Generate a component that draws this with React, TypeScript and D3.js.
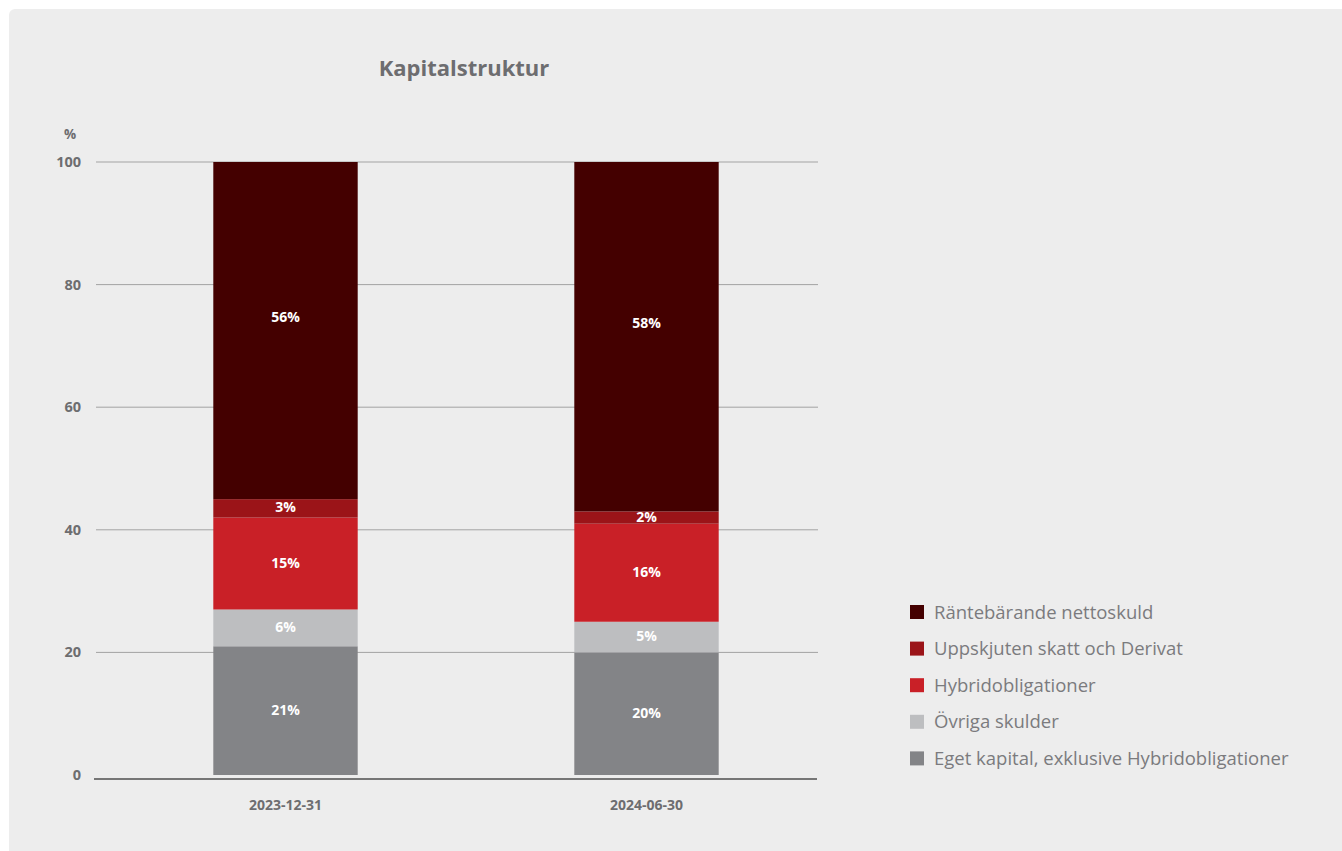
// @ts-nocheck
import React from 'react';
import * as d3 from 'd3';

// data
const periods = ['2023-12-31', '2024-06-30'];
const seriesNames = [
  'Eget kapital, exklusive Hybridobligationer',
  'Övriga skulder',
  'Hybridobligationer',
  'Uppskjuten skatt och Derivat',
  'Räntebärande nettoskuld',
];
const egetKapital = [21, 20];
const ovrigaSkulder = [6, 5];
const hybrid = [15, 16];
const uppskjuten = [3, 2];
const rantebarande = [56, 58];
const seriesColors = ['#838487', '#bdbec0', '#c92027', '#9b1418', '#440000'];
const yTicks = [0, 20, 40, 60, 80, 100];

const W = 1342, H = 851;
const font = '"Open Sans", "DejaVu Sans", sans-serif';

export default function App() {
  const rows = periods.map((p, i) => ({
    period: p,
    [seriesNames[0]]: egetKapital[i],
    [seriesNames[1]]: ovrigaSkulder[i],
    [seriesNames[2]]: hybrid[i],
    [seriesNames[3]]: uppskjuten[i],
    [seriesNames[4]]: rantebarande[i],
  }));
  const stacked = d3.stack().keys(seriesNames)(rows);

  const x = d3.scaleBand().domain(periods).range([105, 827]).paddingInner(0.6).paddingOuter(0.3);
  const y = d3.scaleLinear().domain([0, 100]).range([775, 162]);
  const gridX0 = 96, gridX1 = 818;

  const legendOrder = [...seriesNames].reverse();

  return (
    <svg width={W} height={H} style={{ position: 'absolute', left: 0, top: 0, display: 'block' }}>
      <defs>
        <clipPath id="plotClip">
          <rect x={0} y={y(100)} width={W} height={y(0) - y(100) + 1} />
        </clipPath>
      </defs>
      <rect x={0} y={0} width={W} height={H} fill="#ffffff" />
      <rect x={9} y={9} width={W} height={H} rx={6} fill="#ededed" />

      <text x={464} y={76} textAnchor="middle" fontFamily={font} fontWeight="bold" fontSize={22} fill="#6d6d70">
        Kapitalstruktur
      </text>

      <text x={70} y={139} textAnchor="middle" fontFamily={font} fontWeight="bold" fontSize={13.5} fill="#6d6d70">%</text>

      {yTicks.map(t => (
        <g key={t}>
          {t > 0 && (
            <line x1={gridX0} x2={gridX1} y1={y(t)} y2={y(t)} stroke="#a3a3a3" strokeWidth={1} />
          )}
          <text x={81} y={y(t) + 5} textAnchor="end" fontFamily={font} fontWeight="bold" fontSize={14.5} fill="#6d6d70">
            {t}
          </text>
        </g>
      ))}

      <g clipPath="url(#plotClip)">
        {stacked.map((s, si) => (
          <g key={s.key} fill={seriesColors[si]}>
            {s.map((d, i) => (
              <rect
                key={i}
                x={x(periods[i])}
                width={x.bandwidth()}
                y={y(d[1])}
                height={y(d[0]) - y(d[1])}
              />
            ))}
          </g>
        ))}
      </g>

      {stacked.map((s, si) =>
        s.map((d, i) => {
          const top = Math.min(d[1], 100);
          const mid = si === stacked.length - 1 ? (d[0] + d[1]) / 2 + 1.5 : (d[0] + top) / 2;
          return (
            <text
              key={s.key + i}
              x={x(periods[i]) + x.bandwidth() / 2}
              y={y(mid) + 4}
              textAnchor="middle"
              fontFamily={font}
              fontWeight="bold"
              fontSize={14}
              fill="#ffffff"
            >
              {`${d[1] - d[0]}%`}
            </text>
          );
        })
      )}

      <line x1={94} x2={817} y1={779} y2={779} stroke="#767676" strokeWidth={2} />

      {periods.map(p => (
        <text key={p} x={x(p) + x.bandwidth() / 2} y={810} textAnchor="middle" fontFamily={font} fontWeight="bold" fontSize={14} fill="#6d6d70">
          {p}
        </text>
      ))}

      {legendOrder.map((name, i) => {
        const cy = 612 + i * 36.6;
        const color = seriesColors[seriesNames.indexOf(name)];
        return (
          <g key={name}>
            <rect x={910} y={cy - 7} width={14} height={14} fill={color} />
            <text x={934} y={cy + 6.5} fontFamily={font} fontSize={18.5} fill="#7b7b7e">{name}</text>
          </g>
        );
      })}
    </svg>
  );
}
